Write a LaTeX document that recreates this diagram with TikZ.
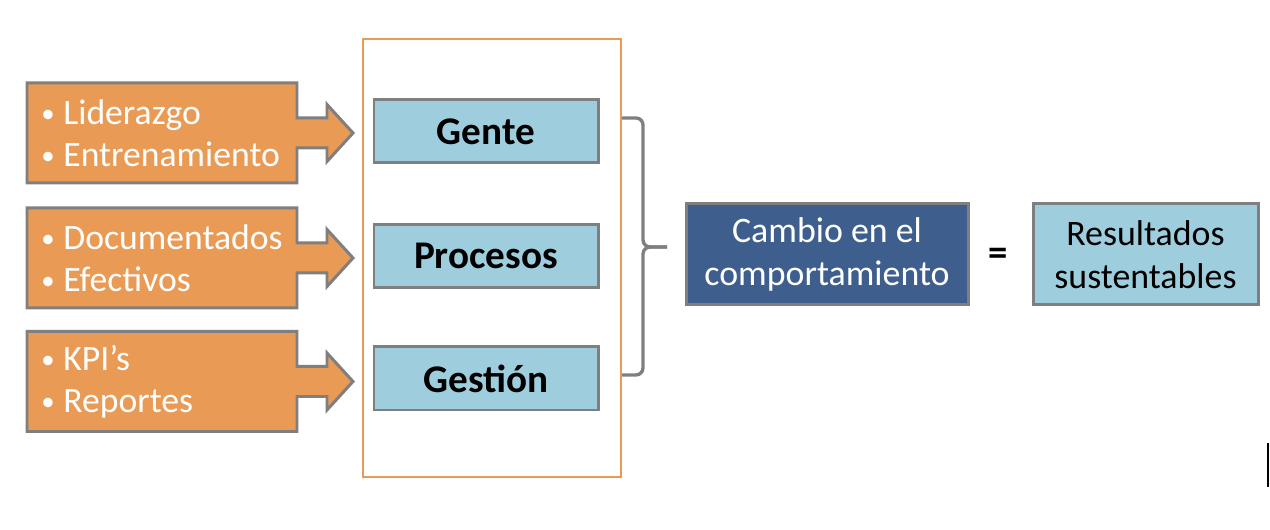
\documentclass[tikz,border=0pt]{standalone}
\usepackage{fontspec}
\setmainfont{Carlito}
\usetikzlibrary{
		calc,
		positioning
	}
\definecolor{calloutorange}{RGB}{233,154,85}
\definecolor{boxblue}{RGB}{158,205,221}
\definecolor{darkblue}{RGB}{62,94,141}
\definecolor{bordergray}{RGB}{127,127,127}
\newcommand{\bul}{\makebox[0.44cm][l]{\raisebox{0.12ex}{\scalebox{0.75}{\textbullet}}}}
\tikzset{
		callout/.style={fill=calloutorange, draw=bordergray, line width=1.7pt, line join=miter},
		callouttext/.style={anchor=west, inner sep=0pt, align=left, text=white,
			font=\fontsize{20.3}{24}\selectfont},
		pillar/.style={fill=boxblue, draw=bordergray, line width=1.7pt, minimum width=4.48cm,
			minimum height=1.26cm, inner sep=0pt, font=\fontsize{22.3}{26}\selectfont\bfseries},
		result/.style={draw=bordergray, line width=1.7pt, minimum height=2.02cm, inner sep=0pt,
			align=center, font=\fontsize{20.4}{24.5}\selectfont}
	}

\begin{document}
\begin{tikzpicture}
    \useasboundingbox (0,0) rectangle (25.4,10.6);

    % the orange callouts with their arrows
    \filldraw[callout] (0.54,8.94) -- ++(5.4,0) -- ++(0,-0.7) -- ++(0.6,0) -- ++(0,0.27)
        -- ++(0.52,-0.57) -- ++(-0.52,-0.57) -- ++(0,0.27) -- ++(-0.6,0) -- ++(0,-0.7)
        -- ++(-5.4,0) -- cycle;
    \filldraw[callout] (0.54,6.44) -- ++(5.4,0) -- ++(0,-0.7) -- ++(0.6,0) -- ++(0,0.27)
        -- ++(0.52,-0.57) -- ++(-0.52,-0.57) -- ++(0,0.27) -- ++(-0.6,0) -- ++(0,-0.7)
        -- ++(-5.4,0) -- cycle;
    \filldraw[callout] (0.54,3.97) -- ++(5.4,0) -- ++(0,-0.7) -- ++(0.6,0) -- ++(0,0.27)
        -- ++(0.52,-0.57) -- ++(-0.52,-0.57) -- ++(0,0.27) -- ++(-0.6,0) -- ++(0,-0.7)
        -- ++(-5.4,0) -- cycle;

    % the texts of the callouts
    \node[callouttext] (lid) at (0.82,7.94) {\bul Liderazgo\\\bul Entrenamiento};
    \node[callouttext] (doc) at (0.82,5.44) {\bul Documentados\\\bul Efectivos};
    \node[callouttext] (kpi) at (0.82,2.97) {\bul KPI’s\\\bul Reportes};

    % the orange frame round the three pillars
    \draw[draw=calloutorange, line width=1.2pt] (7.26,1.06) rectangle (12.42,9.82);

    % the pillars
    \node[pillar] (gente) at (9.72,7.97) {Gente};
    \node[pillar] (procesos) at (9.72,5.48) {Procesos};
    \node[pillar] (gestion) at (9.72,3.03) {Gestión};

    % the brace
    \draw[draw=bordergray, line width=1.9pt, rounded corners=4pt]
        (12.44,8.24) -- (12.86,8.24) -- (12.86,5.66) -- (13.34,5.66);
    \draw[draw=bordergray, line width=1.9pt, rounded corners=4pt]
        (12.44,3.10) -- (12.86,3.10) -- (12.86,5.66) -- (13.34,5.66);

    % the result
    \node[result, fill=darkblue, text=white, minimum width=5.64cm] (cambio) at (16.54,5.51)
        {Cambio en el\\comportamiento};
    \node[font=\fontsize{22}{26}\selectfont\bfseries] (igual) at (19.96,5.47) {=};
    \node[result, fill=boxblue, minimum width=4.5cm] (sust) at (22.91,5.51)
        {Resultados\\sustentables};

    % the cursor mark
    \draw[line width=1.2pt] (25.36,0.86) -- (25.36,1.74);

\end{tikzpicture}
\end{document}
